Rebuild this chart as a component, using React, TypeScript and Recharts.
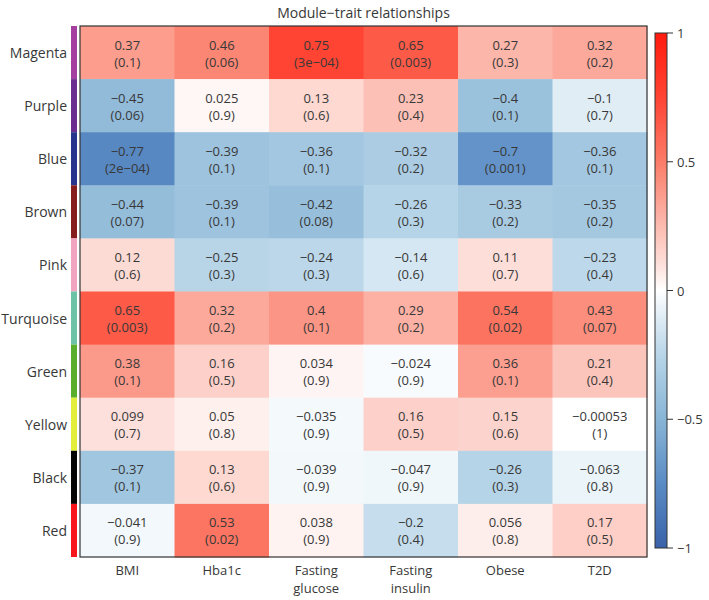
import { Scatter, ScatterChart, XAxis, YAxis } from "recharts";

const traits = ["BMI", "Hba1c", "Fasting glucose", "Fasting insulin", "Obese", "T2D"];
const modules = ["Magenta", "Purple", "Blue", "Brown", "Pink", "Turquoise", "Green", "Yellow", "Black", "Red"];
const moduleColors = ["#a43f9f", "#6b2d8f", "#28358c", "#861c1c", "#f2a5c1", "#6cc3a8", "#5aae2e", "#e3ee3a", "#050505", "#f8151b"];

const corr: number[][] = [
  [0.37, 0.46, 0.75, 0.65, 0.27, 0.32],
  [-0.45, 0.025, 0.13, 0.23, -0.4, -0.1],
  [-0.77, -0.39, -0.36, -0.32, -0.7, -0.36],
  [-0.44, -0.39, -0.42, -0.26, -0.33, -0.35],
  [0.12, -0.25, -0.24, -0.14, 0.11, -0.23],
  [0.65, 0.32, 0.4, 0.29, 0.54, 0.43],
  [0.38, 0.16, 0.034, -0.024, 0.36, 0.21],
  [0.099, 0.05, -0.035, 0.16, 0.15, -0.00053],
  [-0.37, 0.13, -0.039, -0.047, -0.26, -0.063],
  [-0.041, 0.53, 0.038, -0.2, 0.056, 0.17],
];

const pvals: string[][] = [
  ["0.1", "0.06", "3e-04", "0.003", "0.3", "0.2"],
  ["0.06", "0.9", "0.6", "0.4", "0.1", "0.7"],
  ["2e-04", "0.1", "0.1", "0.2", "0.001", "0.1"],
  ["0.07", "0.1", "0.08", "0.3", "0.2", "0.2"],
  ["0.6", "0.3", "0.3", "0.6", "0.7", "0.4"],
  ["0.003", "0.2", "0.1", "0.2", "0.02", "0.07"],
  ["0.1", "0.5", "0.9", "0.9", "0.1", "0.4"],
  ["0.7", "0.8", "0.9", "0.5", "0.6", "1"],
  ["0.1", "0.6", "0.9", "0.9", "0.3", "0.8"],
  ["0.9", "0.02", "0.9", "0.4", "0.8", "0.5"],
];

const legendTicks = [1, 0.5, 0, -0.5, -1];

// blue - white - red ramp
const colorStops: [number, number[]][] = [
  [-1, [58, 98, 170]],
  [-0.75, [90, 139, 196]],
  [-0.5, [136, 181, 214]],
  [-0.25, [184, 213, 232]],
  [-0.1, [224, 237, 245]],
  [0, [255, 255, 255]],
  [0.1, [253, 224, 219]],
  [0.25, [252, 187, 176]],
  [0.5, [251, 124, 104]],
  [0.75, [255, 68, 51]],
  [1, [255, 26, 13]],
];

const colorFor = (v: number) => {
  for (let k = 1; k < colorStops.length; k++) {
    const [v1, c1] = colorStops[k];
    if (v <= v1) {
      const [v0, c0] = colorStops[k - 1];
      const t = (v - v0) / (v1 - v0);
      const c = c0.map((a, i) => Math.round(a + (c1[i] - a) * t));
      return `rgb(${c[0]},${c[1]},${c[2]})`;
    }
  }
  return "rgb(255,26,13)";
};

const cells = corr.flatMap((row, i) =>
  row.map((r, j) => ({ x: j, y: i, r, p: pvals[i][j] }))
);

const W = 709;
const H = 600;
const Y_AXIS_W = 80;
const X_AXIS_H = 43;
const MARGIN = { top: 26, right: 62, bottom: 0, left: 0 };
const PLOT_W = W - Y_AXIS_W - MARGIN.left - MARGIN.right;
const PLOT_H = H - MARGIN.top - MARGIN.bottom - X_AXIS_H;
const CELL_W = PLOT_W / traits.length;
const CELL_H = PLOT_H / modules.length;
const PLOT_LEFT = MARGIN.left + Y_AXIS_W;
const PLOT_BOTTOM = MARGIN.top + PLOT_H;

const FONT = "'Open Sans', sans-serif";
const TEXT = "#383838";
const minus = (s: string) => s.replace(/-/g, "\u2212");

const HeatCell = (props: any) => {
  const { cx, cy, payload } = props;
  return (
    <g>
      <rect
        x={cx - CELL_W / 2}
        y={cy - CELL_H / 2}
        width={CELL_W + 0.5}
        height={CELL_H + 0.5}
        fill={colorFor(payload.r)}
      />
      <text x={cx} y={cy - 8} textAnchor="middle" dominantBaseline="central" fontSize={13} fill={TEXT} fontFamily={FONT}>
        {minus(String(payload.r))}
      </text>
      <text x={cx} y={cy + 9} textAnchor="middle" dominantBaseline="central" fontSize={13} fill={TEXT} fontFamily={FONT}>
        ({minus(payload.p)})
      </text>
    </g>
  );
};

const ModuleTick = ({ y, payload }: any) => {
  const i = payload.value;
  return (
    <g>
      <text x={PLOT_LEFT - 13} y={y} textAnchor="end" dominantBaseline="central" fontSize={14} fill={TEXT} fontFamily={FONT}>
        {modules[i]}
      </text>
      <rect x={PLOT_LEFT - 9} y={y - CELL_H / 2} width={6} height={CELL_H} fill={moduleColors[i]} />
    </g>
  );
};

const TraitTick = ({ x, payload }: any) => {
  const words = traits[payload.value].split(" ");
  return (
    <text textAnchor="middle" fontSize={13} fill={TEXT} fontFamily={FONT}>
      {words.map((w, k) => (
        <tspan key={k} x={x} y={PLOT_BOTTOM + 18 + k * 18}>
          {w}
        </tspan>
      ))}
    </text>
  );
};

// colour key on the right
const BAR_X = 655;
const BAR_W = 12;
const BAR_TOP = 33;
const BAR_BOTTOM = 548;
const barY = (v: number) => BAR_TOP + ((1 - v) / 2) * (BAR_BOTTOM - BAR_TOP);
const gradientSteps = Array.from({ length: 41 }, (_, k) => 1 - k / 20);

const Overlay = () => (
  <svg width={W} height={H} style={{ position: "absolute", left: 0, top: 0, pointerEvents: "none" }}>
    <defs>
      <linearGradient id="key" x1="0" y1="0" x2="0" y2="1">
        {gradientSteps.map((v, k) => (
          <stop key={k} offset={`${(k / (gradientSteps.length - 1)) * 100}%`} stopColor={colorFor(v)} />
        ))}
      </linearGradient>
    </defs>
    <text
      x={PLOT_LEFT + PLOT_W / 2}
      y={12}
      textAnchor="middle"
      dominantBaseline="central"
      fontSize={14}
      fill={TEXT}
      fontFamily={FONT}
    >
      {"Module\u2212trait relationships"}
    </text>
    {/* frame round the heatmap */}
    <rect x={PLOT_LEFT} y={MARGIN.top} width={PLOT_W} height={PLOT_H} fill="none" stroke="#333" strokeWidth={1.2} />
    <rect x={BAR_X} y={BAR_TOP} width={BAR_W} height={BAR_BOTTOM - BAR_TOP} fill="url(#key)" stroke="#333" strokeWidth={1} />
    {legendTicks.map((v) => (
      <g key={v}>
        <line x1={BAR_X + BAR_W} x2={BAR_X + BAR_W + 6} y1={barY(v)} y2={barY(v)} stroke="#333" />
        <text x={BAR_X + BAR_W + 10} y={barY(v)} dominantBaseline="central" fontSize={13} fill={TEXT} fontFamily={FONT}>
          {minus(String(v))}
        </text>
      </g>
    ))}
  </svg>
);

export default function App() {
  return (
    <div style={{ position: "absolute", left: 0, top: 0, width: W, height: H, background: "#fff" }}>
      <ScatterChart width={W} height={H} margin={MARGIN}>
        <XAxis
          type="number"
          dataKey="x"
          domain={[-0.5, traits.length - 0.5]}
          ticks={traits.map((_, j) => j)}
          tick={<TraitTick />}
          height={X_AXIS_H}
          axisLine={false}
          tickLine={false}
          interval={0}
        />
        <YAxis
          type="number"
          dataKey="y"
          domain={[-0.5, modules.length - 0.5]}
          ticks={modules.map((_, i) => i)}
          tick={<ModuleTick />}
          width={Y_AXIS_W}
          reversed
          axisLine={false}
          tickLine={false}
          interval={0}
        />
        <Scatter data={cells} shape={<HeatCell />} isAnimationActive={false} />
      </ScatterChart>
      <Overlay />
    </div>
  );
}
